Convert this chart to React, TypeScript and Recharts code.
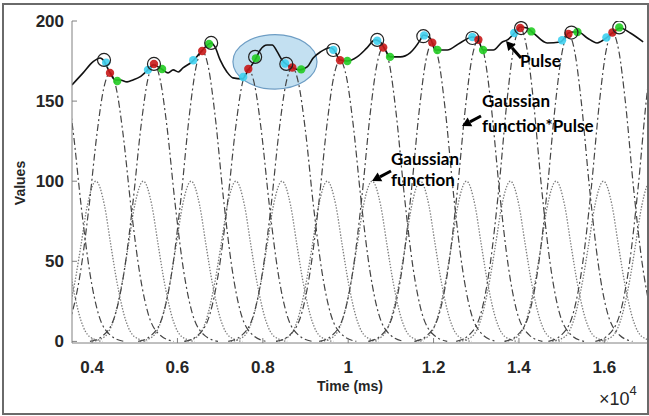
import {
  ComposedChart,
  Line,
  Scatter,
  XAxis,
  YAxis,
  ReferenceArea,
} from "recharts"

// solid pulse trace (time in ms x10^4)
const pulseTime = [
  0.353, 0.379, 0.402, 0.419, 0.426, 0.442, 0.454, 0.466, 0.482, 0.496, 0.512,
  0.531, 0.543, 0.555, 0.566, 0.578, 0.59, 0.602, 0.613, 0.634, 0.653, 0.67,
  0.679, 0.688, 0.7, 0.716, 0.73, 0.752, 0.766, 0.782, 0.794, 0.81, 0.822,
  0.834, 0.845, 0.857, 0.871, 0.887, 0.904, 0.918, 0.935, 0.958, 0.965, 0.981,
  0.998, 1.021, 1.044, 1.063, 1.075, 1.087, 1.098, 1.122, 1.145, 1.169, 1.176,
  1.192, 1.204, 1.232, 1.262, 1.291, 1.302, 1.316, 1.34, 1.361, 1.373, 1.396,
  1.403, 1.419, 1.434, 1.466, 1.497, 1.516, 1.527, 1.539, 1.56, 1.583, 1.607,
  1.621, 1.637, 1.661, 1.691,
]
const pulseValue = [
  160.1, 167.6, 174.5, 176.9, 175.7, 167.6, 163.2, 163.2, 162, 163.2, 165.1,
  169.5, 172.6, 171.3, 169.5, 167.6, 169.5, 168.2, 170.7, 174.5, 180.1, 185,
  186.3, 183.8, 175.7, 168.2, 164.5, 163.9, 169.5, 175.7, 181.9, 185, 185,
  180.7, 175.7, 172.6, 170.7, 169.5, 171.3, 176.9, 180.7, 183.3, 182.5, 175.7,
  175, 177.6, 183.2, 188.2, 186.9, 181.9, 177.6, 177.6, 180.1, 188.2, 191.3,
  189.4, 181.9, 181.9, 186.3, 190, 189.4, 181.9, 181.9, 186.9, 188.2, 194.4,
  196.3, 195.6, 192.5, 186.3, 186.9, 192.5, 193.1, 193.1, 189.4, 186.3, 190,
  193.1, 195.6, 192.5, 186.9,
]

// gaussian windows (dotted), peak 100
const gaussCenters = [
  0.304, 0.409, 0.52, 0.632, 0.737, 0.845, 0.951, 1.056, 1.169, 1.277, 1.38,
  1.487, 1.598, 1.708,
]
const gaussOffsets = [-0.12, -0.09, -0.07, -0.05, -0.035, -0.02, 0, 0.02, 0.035, 0.05, 0.07, 0.09, 0.12]
const gaussLevels = [0, 3, 13, 36, 60, 85, 100, 85, 60, 36, 13, 3, 0]

// gaussian * pulse (dash-dot)
const prodCenters = [
  0.325, 0.442, 0.545, 0.658, 0.766, 0.869, 0.981, 1.082, 1.197, 1.305, 1.403,
  1.516, 1.619, 1.729,
]
const prodPeaks = [
  170, 167.6, 173.2, 181.3, 170, 171, 175.5, 183.5, 186.5, 188.3, 195.6, 191.9,
  192.8, 195,
]
const prodOffsets = [-0.15, -0.12, -0.09, -0.07, -0.05, -0.03, -0.015, 0, 0.015, 0.03, 0.05, 0.07, 0.09, 0.12, 0.15]
const prodShares = [0, 0.02, 0.1, 0.25, 0.49, 0.78, 0.94, 1, 0.94, 0.78, 0.49, 0.25, 0.1, 0.02, 0]

// markers
const circleTime = [0.428, 0.545, 0.679, 0.782, 0.855, 0.965, 1.068, 1.176, 1.291, 1.405, 1.523, 1.635]
const circleValue = [175.7, 173.2, 186.3, 177.6, 173.2, 181.9, 188.2, 190.5, 189.4, 195.6, 192.8, 196]
const redTime = [0.442, 0.545, 0.658, 0.766, 0.869, 0.981, 1.082, 1.197, 1.305, 1.403, 1.516, 1.619]
const redValue = [167.6, 173.2, 181.3, 170, 171, 175.5, 183.5, 186.5, 188.3, 195.6, 191.9, 192.8]
const cyanTime = [0.433, 0.531, 0.637, 0.754, 0.852, 0.965, 1.068, 1.178, 1.291, 1.389, 1.501, 1.605]
const cyanValue = [174, 169.5, 175.5, 165, 173.5, 182, 187.7, 191, 190, 192.5, 188, 189.7]
const greenTime = [0.459, 0.564, 0.674, 0.784, 0.89, 0.998, 1.098, 1.209, 1.316, 1.429, 1.537, 1.635]
const greenValue = [162.5, 170, 185.6, 176.7, 169.8, 175, 177.6, 181.9, 181.9, 193.5, 193.1, 196]

const xTicks = [0.4, 0.6, 0.8, 1, 1.2, 1.4, 1.6]
const yTicks = [0, 50, 100, 150, 200]

const zip = (ts: number[], vs: number[]) => ts.map((t, i) => ({ t, v: vs[i] }))

const pulseData = zip(pulseTime, pulseValue)
const gaussData = gaussCenters.map((c) =>
  gaussOffsets.map((o, i) => ({ t: c + o, v: gaussLevels[i] }))
)
const prodData = prodCenters.map((c, k) =>
  prodOffsets.map((o, i) => ({ t: c + o, v: prodPeaks[k] * prodShares[i] }))
)

const axisGray = "#808080"
const tickFont = "'Liberation Sans', Arial, sans-serif"
const noteFont = "Lato, 'Open Sans', sans-serif"

function XTick(p: any) {
  const { x, y, payload } = p
  return (
    <g>
      <line x1={x} x2={x} y1={y} y2={y - 5} stroke={axisGray} />
      <text x={x} y={y + 30} textAnchor="middle" fontFamily={tickFont} fontWeight="bold" fontSize={17} fill="#262626">
        {String(payload.value)}
      </text>
    </g>
  )
}

function YTick(p: any) {
  const { x, y, payload } = p
  return (
    <g>
      <line x1={x} x2={x + 5} y1={y} y2={y} stroke={axisGray} />
      <text x={x - 8} y={y + 6} textAnchor="end" fontFamily={tickFont} fontWeight="bold" fontSize={17} fill="#262626">
        {String(payload.value)}
      </text>
    </g>
  )
}

const dot = (color: string, r: number) => (p: any) =>
  <circle cx={p.cx} cy={p.cy} r={r} fill={color} fillOpacity={0.9} />

function Arrow({ x1, y1, x2, y2 }: { x1: number; y1: number; x2: number; y2: number }) {
  const dx = x2 - x1
  const dy = y2 - y1
  const len = Math.hypot(dx, dy)
  const ux = dx / len
  const uy = dy / len
  const bx = x2 - ux * 9
  const by = y2 - uy * 9
  return (
    <g>
      <line x1={x1} y1={y1} x2={bx} y2={by} stroke="#000" strokeWidth={3} />
      <polygon
        points={`${x2},${y2} ${bx - uy * 5},${by + ux * 5} ${bx + uy * 5},${by - ux * 5}`}
        fill="#000"
      />
    </g>
  )
}

export default function App() {
  return (
    <div style={{ position: "fixed", left: 0, top: 0, width: 649, height: 416, background: "#fff" }}>
      <ComposedChart width={649} height={416} margin={{ top: 21, right: 2, bottom: 0, left: 0 }}>
        <XAxis
          type="number"
          dataKey="t"
          domain={[0.353, 1.7]}
          ticks={xTicks}
          allowDataOverflow
          height={73}
          tickSize={0}
          tickMargin={0}
          tick={<XTick />}
          axisLine={{ stroke: axisGray }}
        />
        <YAxis
          type="number"
          domain={[-1, 200]}
          ticks={yTicks}
          allowDataOverflow
          width={72}
          tickSize={0}
          tickMargin={0}
          tick={<YTick />}
          axisLine={{ stroke: axisGray }}
        />
        <ReferenceArea
          x1={0.73}
          x2={0.927}
          y1={157.5}
          y2={191.5}
          shape={(p: any) => (
            <ellipse
              cx={p.x + p.width / 2}
              cy={p.y + p.height / 2}
              rx={p.width / 2}
              ry={p.height / 2}
              fill="#b4d8ee"
              fillOpacity={0.8}
              stroke="#6d9dc4"
              strokeWidth={1.2}
            />
          )}
        />
        {gaussData.map((d, i) => (
          <Line
            key={"g" + i}
            data={d}
            dataKey="v"
            type="monotone"
            stroke="#7a7a7a"
            strokeWidth={1.3}
            strokeDasharray="1.4 1.6"
            dot={false}
            isAnimationActive={false}
          />
        ))}
        {prodData.map((d, i) => (
          <Line
            key={"p" + i}
            data={d}
            dataKey="v"
            type="monotone"
            stroke="#444"
            strokeWidth={1.2}
            strokeDasharray="7 3 2 3"
            dot={false}
            isAnimationActive={false}
          />
        ))}
        <Line
          data={pulseData}
          dataKey="v"
          type="monotone"
          stroke="#111"
          strokeWidth={1.6}
          dot={false}
          isAnimationActive={false}
        />
        <Scatter data={zip(cyanTime, cyanValue)} dataKey="v" shape={dot("#3fd0f0", 4.2)} isAnimationActive={false} />
        <Scatter data={zip(greenTime, greenValue)} dataKey="v" shape={dot("#22cc22", 4.2)} isAnimationActive={false} />
        <Scatter data={zip(redTime, redValue)} dataKey="v" shape={dot("#c81818", 4.2)} isAnimationActive={false} />
        <Scatter
          data={zip(circleTime, circleValue)}
          dataKey="v"
          shape={(p: any) => <circle cx={p.cx} cy={p.cy} r={6.5} fill="none" stroke="#222" strokeWidth={1.2} />}
          isAnimationActive={false}
        />
      </ComposedChart>

      <svg width={649} height={416} style={{ position: "absolute", left: 0, top: 0, pointerEvents: "none" }}>
        <text
          x={25}
          y={183}
          transform="rotate(-90 25 183)"
          textAnchor="middle"
          fontFamily={tickFont}
          fontWeight="bold"
          fontSize={14}
          fill="#262626"
        >
          Values
        </text>
        <text x={350} y={391} textAnchor="middle" fontFamily={tickFont} fontWeight="bold" fontSize={14} fill="#262626">
          Time (ms)
        </text>
        <text x={599} y={405} fontFamily={tickFont} fontSize={18} fill="#262626">
          ×10
          <tspan dy={-10} fontSize={13}>4</tspan>
        </text>

        <g fontFamily={noteFont} fontWeight="bold" fontSize={17} fill="#000">
          <text x={520} y={67}>Pulse</text>
          <text x={482} y={107}>Gaussian</text>
          <text x={482} y={132}>function*Pulse</text>
          <text x={391} y={165}>Gaussian</text>
          <text x={391} y={186}>function</text>
        </g>
        <Arrow x1={521} y1={58} x2={506} y2={41} />
        <Arrow x1={481} y1={116} x2={462} y2={126} />
        <Arrow x1={391} y1={171} x2={372} y2={181} />
      </svg>

      <div
        style={{
          position: "absolute",
          left: 2,
          top: 3,
          width: 643,
          height: 408,
          border: "2px solid #6a6a6a",
          pointerEvents: "none",
        }}
      />
    </div>
  )
}
